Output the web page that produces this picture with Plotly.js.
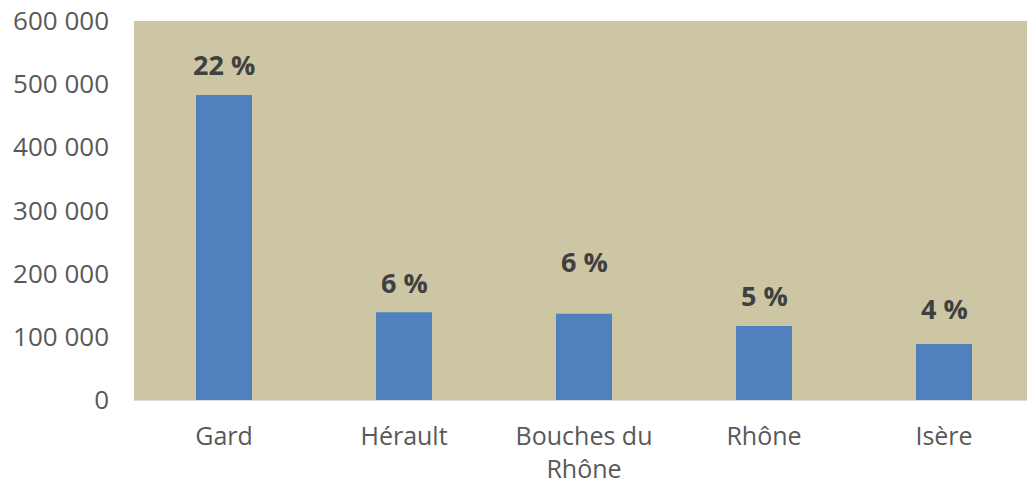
<!DOCTYPE html>
<html>
<head>
<meta charset="utf-8">
<script src="https://cdn.plot.ly/plotly-3.0.1.min.js"></script>
<style>html,body{margin:0;padding:0;background:#fff;}#chart{width:1027px;height:485px;}</style>
</head>
<body>
<div id="chart"></div>
<script>
const categories = ["Gard", "Hérault", "Bouches du<br>Rhône", "Rhône", "Isère"];
const values = [483000, 138800, 136600, 117200, 88600];
const shareLabels = ["22 %", "6 %", "6 %", "5 %", "4 %"];
const yTickValues = [0, 100000, 200000, 300000, 400000, 500000, 600000];
const yTickLabels = ["0", "100 000", "200 000", "300 000", "400 000", "500 000", "600 000"];

const xIdx = categories.map((_, i) => i);

const trace = {
  type: "bar",
  x: xIdx,
  y: values,
  width: 0.311,
  marker: { color: "#4F81BD", line: { width: 0 } },
  hoverinfo: "skip"
};

(function () {
  const lift = [30, 30, 52, 30, 36];
  const annotations = shareLabels.map((t, i) => ({
    x: xIdx[i], y: values[i], xref: "x", yref: "y",
    text: "<b>" + t + "</b>", showarrow: false,
    yanchor: "middle", xanchor: "center", yshift: lift[i],
    font: { family: "Open Sans", size: 27, color: "#404040" }
  }));

  const layout = {
    width: 1027, height: 485,
    margin: { l: 134, r: 0, t: 21, b: 85, pad: 0 },
    paper_bgcolor: "#ffffff",
    plot_bgcolor: "#CCC6A5",
    showlegend: false,
    font: { family: "Open Sans", size: 25, color: "#595959" },
    xaxis: {
      range: [-0.5, 4.461],
      tickmode: "array", tickvals: xIdx, ticktext: categories,
      showgrid: false, zeroline: false,
      showline: true, linecolor: "#D9D9D9", linewidth: 1,
      ticks: "", ticklabelstandoff: 14,
      tickfont: { family: "Open Sans", size: 25, color: "#595959" },
      fixedrange: true
    },
    yaxis: {
      range: [0, 600000],
      tickmode: "array", tickvals: yTickValues, ticktext: yTickLabels,
      showgrid: false, zeroline: false, showline: false,
      ticks: "", ticklabelstandoff: 24,
      tickfont: { family: "Open Sans", size: 26, color: "#595959" },
      fixedrange: true
    },
    annotations: annotations
  };

  Plotly.newPlot("chart", [trace], layout, { displayModeBar: false, staticPlot: true });
})();
</script>
</body>
</html>
